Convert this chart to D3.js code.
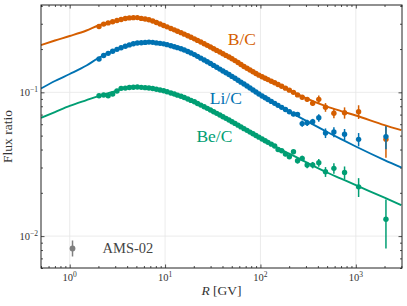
<!DOCTYPE html>
<html>
<head>
<meta charset="utf-8">
<title>Secondary to primary flux ratios</title>
<script src="https://cdn.jsdelivr.net/npm/d3@7"></script>
<style>
  body { margin: 0; background: #fff; }
  text { font-family: "Liberation Serif", "DejaVu Serif", serif; }
</style>
</head>
<body>
<svg id="chart" width="407" height="306"></svg>
<script>
// AMS-02 rigidity bin centres [GV]
const rig = [2.03, 2.27, 2.53, 2.82, 3.13, 3.46, 3.83, 4.22, 4.65, 5.12,
  5.63, 6.18, 6.77, 7.42, 8.11, 8.86, 9.67, 10.5, 11.5, 12.5,
  13.5, 14.7, 15.9, 17.3, 18.7, 20.3, 21.9, 23.7, 25.7, 27.7,
  29.9, 32.3, 34.8, 37.5, 40.4, 43.5, 46.8, 50.3, 54.1, 58.2,
  62.5, 67.2, 72.3, 77.7, 83.5, 89.7, 96.4, 104, 112, 120,
  130, 141, 153, 167, 183, 201, 222, 245, 274, 309,
  353, 409, 481, 589, 762, 1070, 2070];

const bcData = [0.2871, 0.2983, 0.3041, 0.3100, 0.3157, 0.3210, 0.3265, 0.3294, 0.3306, 0.3310,
  0.3269, 0.3233, 0.3198, 0.3135, 0.3061, 0.2988, 0.2919, 0.2854, 0.2783, 0.2720,
  0.2662, 0.2600, 0.2540, 0.2475, 0.2417, 0.2356, 0.2297, 0.2237, 0.2177, 0.2122,
  0.2069, 0.2012, 0.1958, 0.1907, 0.1856, 0.1807, 0.1760, 0.1714, 0.1662, 0.1611,
  0.1562, 0.1514, 0.1470, 0.1430, 0.1391, 0.1353, 0.1317, 0.1282, 0.1253, 0.1226,
  0.1195, 0.1165, 0.1135, 0.1102, 0.1069, 0.1036, 0.1000, 0.0960, 0.0925, 0.0894,
  0.0840, 0.0894, 0.0787, 0.0715, 0.0721, 0.0733, 0.0471];
const bcErr = [0.003, 0.003, 0.003, 0.003, 0.003, 0.003, 0.003, 0.003, 0.003, 0.003,
  0.003, 0.003, 0.003, 0.003, 0.003, 0.003, 0.003, 0.0025, 0.0025, 0.0025,
  0.0025, 0.0025, 0.0025, 0.0025, 0.0025, 0.0025, 0.0025, 0.0025, 0.0025, 0.0025,
  0.0025, 0.0025, 0.0025, 0.0025, 0.0025, 0.0025, 0.0025, 0.0025, 0.0025, 0.0025,
  0.002, 0.002, 0.002, 0.002, 0.002, 0.002, 0.002, 0.002, 0.002, 0.002,
  0.002, 0.002, 0.0025, 0.0025, 0.0025, 0.0025, 0.003, 0.003, 0.0032, 0.0035,
  0.0035, 0.0055, 0.0055, 0.0055, 0.0065, 0.008, 0.012];

const liData = [0.1706, 0.1804, 0.1867, 0.1932, 0.1991, 0.2041, 0.2094, 0.2138, 0.2176, 0.2205,
  0.2215, 0.2225, 0.2235, 0.2227, 0.2208, 0.2191, 0.2174, 0.2147, 0.2110, 0.2076,
  0.2046, 0.2012, 0.1970, 0.1921, 0.1877, 0.1830, 0.1780, 0.1729, 0.1678, 0.1632,
  0.1587, 0.1539, 0.1494, 0.1451, 0.1408, 0.1368, 0.1329, 0.1291, 0.1252, 0.1213,
  0.1177, 0.1142, 0.1106, 0.1071, 0.1037, 0.1005, 0.0973, 0.0943, 0.0916, 0.0892,
  0.0865, 0.0838, 0.0812, 0.0786, 0.0759, 0.0733, 0.0707, 0.0703, 0.0606, 0.0614,
  0.0624, 0.0665, 0.0521, 0.0530, 0.0511, 0.0471, 0.0492];
const liErr = [0.003, 0.003, 0.003, 0.003, 0.003, 0.003, 0.003, 0.003, 0.003, 0.003,
  0.003, 0.003, 0.003, 0.003, 0.003, 0.003, 0.003, 0.0025, 0.0025, 0.0025,
  0.0025, 0.0025, 0.0025, 0.0025, 0.0025, 0.0025, 0.0025, 0.0025, 0.0025, 0.0025,
  0.0025, 0.0025, 0.0025, 0.0025, 0.0025, 0.0025, 0.0025, 0.0025, 0.0025, 0.0025,
  0.002, 0.002, 0.002, 0.002, 0.002, 0.002, 0.002, 0.002, 0.002, 0.002,
  0.002, 0.002, 0.002, 0.002, 0.002, 0.002, 0.0025, 0.0025, 0.003, 0.003,
  0.003, 0.004, 0.004, 0.0042, 0.0045, 0.005, 0.009];

const beData = [0.0947, 0.0958, 0.0947, 0.0973, 0.1021, 0.1066, 0.1070, 0.1081, 0.1086, 0.1088,
  0.1083, 0.1078, 0.1073, 0.1063, 0.1050, 0.1038, 0.1026, 0.1010, 0.0990, 0.0973,
  0.0956, 0.0939, 0.0920, 0.0898, 0.0879, 0.0859, 0.0837, 0.0815, 0.0793, 0.0774,
  0.0754, 0.0733, 0.0714, 0.0695, 0.0677, 0.0659, 0.0642, 0.0625, 0.0608, 0.0591,
  0.0575, 0.0559, 0.0544, 0.0529, 0.0515, 0.0501, 0.0488, 0.0474, 0.0461, 0.0449,
  0.0436, 0.0423, 0.0400, 0.0392, 0.0372, 0.0356, 0.0386, 0.0334, 0.0347, 0.0312,
  0.0312, 0.0324, 0.0280, 0.0296, 0.0277, 0.0220, 0.0131];
const beErr = [0.0015, 0.0015, 0.0015, 0.0015, 0.0015, 0.0015, 0.0015, 0.0015, 0.0015, 0.0015,
  0.0015, 0.0015, 0.0015, 0.0015, 0.0015, 0.0015, 0.0015, 0.0012, 0.0012, 0.0012,
  0.0012, 0.0012, 0.0012, 0.0012, 0.0012, 0.0012, 0.0012, 0.0012, 0.0012, 0.0012,
  0.0012, 0.0012, 0.0012, 0.0012, 0.0012, 0.0012, 0.0012, 0.0012, 0.0012, 0.0012,
  0.001, 0.001, 0.001, 0.001, 0.001, 0.001, 0.001, 0.001, 0.001, 0.001,
  0.001, 0.001, 0.0012, 0.0012, 0.0012, 0.0012, 0.0013, 0.0014, 0.0015, 0.0015,
  0.0016, 0.002, 0.0022, 0.0025, 0.0028, 0.0033, 0.0049];

// model curves
const modelR = [0.5, 0.7, 1, 1.5, 2, 3, 4, 5, 7, 10, 15, 20, 30, 50, 70, 100, 150, 200, 300, 500, 700, 1000, 2000, 3000];
const bcModel = [0.2134, 0.2293, 0.2464, 0.2692, 0.2916, 0.3134, 0.3289, 0.3315, 0.3185, 0.2893, 0.2587, 0.2368,
  0.2066, 0.1718, 0.1488, 0.1299, 0.1142, 0.1038, 0.0913, 0.0796, 0.0741, 0.0690, 0.0592, 0.0546];
const liModel = [0.1063, 0.1199, 0.1341, 0.1536, 0.1732, 0.1970, 0.2117, 0.2203, 0.2239, 0.2168, 0.2004, 0.1841,
  0.1585, 0.1294, 0.1122, 0.0957, 0.0818, 0.0735, 0.0635, 0.0530, 0.0473, 0.0420, 0.0338, 0.0300];
const beModel = [0.0665, 0.0729, 0.0804, 0.0883, 0.0942, 0.1021, 0.1079, 0.1089, 0.1072, 0.1021, 0.0935, 0.0863,
  0.0753, 0.0627, 0.0551, 0.0481, 0.0413, 0.0375, 0.0327, 0.0277, 0.0251, 0.0226, 0.0185, 0.0164];

const xMajor = [1, 10, 100, 1000];
const yMajor = [0.01, 0.1];
const xLabels = ["0", "1", "2", "3"];
const yLabels = ["\u22122", "\u22121"];

const series = [
  {name: "B/C", color: "#d55e00", data: bcData, err: bcErr, model: bcModel, lab: [45.5, 0.212]},
  {name: "Li/C", color: "#0072b2", data: liData, err: liErr, model: liModel, lab: [29.4, 0.083]},
  {name: "Be/C", color: "#009e73", data: beData, err: beErr, model: beModel, lab: [21.3, 0.0451]}
];

const margin = {top: 5, right: 5, bottom: 38, left: 41};
const W = 407, H = 306;
const w = W - margin.left - margin.right, h = H - margin.top - margin.bottom;

const svg = d3.select("#chart");
const g = svg.append("g").attr("transform", `translate(${margin.left},${margin.top})`);

const x = d3.scaleLog().domain([0.5, 3050]).range([0, w]);
const y = d3.scaleLog().domain([0.006, 0.405]).range([h, 0]);

// minor tick values
const xMinor = [];
[0.1, 1, 10, 100, 1000].forEach(d => { for (let k = 2; k <= 9; k++) { const v = d * k; if (v >= 0.5 && v <= 3050) xMinor.push(v); } });
const yMinor = [];
[0.001, 0.01, 0.1].forEach(d => { for (let k = 2; k <= 9; k++) { const v = d * k; if (v >= 0.006 && v <= 0.405) yMinor.push(v); } });

// grid
g.selectAll(".gx").data(xMajor).enter().append("line")
  .attr("x1", d => x(d)).attr("x2", d => x(d)).attr("y1", 0).attr("y2", h)
  .attr("stroke", "#e6e6e6").attr("stroke-width", 0.8);
g.selectAll(".gy").data(yMajor).enter().append("line")
  .attr("y1", d => y(d)).attr("y2", d => y(d)).attr("x1", 0).attr("x2", w)
  .attr("stroke", "#e6e6e6").attr("stroke-width", 0.8);

// ticks on all four sides, pointing in
function ticks(axis, vals, size, tr) {
  const a = g.append("g").attr("transform", tr)
    .call(axis.tickValues(vals).tickSize(-size).tickFormat(""));
  a.select(".domain").remove();
  a.selectAll("line").attr("stroke", "#222").attr("stroke-width", 0.8);
}
ticks(d3.axisBottom(x), xMajor, 3.5, `translate(0,${h})`);
ticks(d3.axisBottom(x), xMinor, 2, `translate(0,${h})`);
ticks(d3.axisTop(x), xMajor, 3.5, "translate(0,0)");
ticks(d3.axisTop(x), xMinor, 2, "translate(0,0)");
ticks(d3.axisLeft(y), yMajor, 3.5, "translate(0,0)");
ticks(d3.axisLeft(y), yMinor, 2, "translate(0,0)");
ticks(d3.axisRight(y), yMajor, 3.5, `translate(${w},0)`);
ticks(d3.axisRight(y), yMinor, 2, `translate(${w},0)`);

// tick labels with exponents
xMajor.forEach((v, i) => {
  const t = g.append("text").attr("x", x(v)).attr("y", h + 13)
    .attr("text-anchor", "middle").attr("font-size", 10.5).attr("fill", "#333");
  t.append("tspan").text("10");
  t.append("tspan").attr("dy", -4).attr("font-size", 7.5).text(xLabels[i]);
});
yMajor.forEach((v, i) => {
  const t = g.append("text").attr("x", -3).attr("y", y(v) + 4)
    .attr("text-anchor", "end").attr("font-size", 10.5).attr("fill", "#333");
  t.append("tspan").text("10");
  t.append("tspan").attr("dy", -4).attr("font-size", 7.5).text(yLabels[i]);
});

// clip
svg.append("defs").append("clipPath").attr("id", "clip")
  .append("rect").attr("width", w).attr("height", h);

const plot = g.append("g").attr("clip-path", "url(#clip)");
const line = d3.line().x(d => x(d[0])).y(d => y(d[1])).curve(d3.curveMonotoneX);

series.forEach(s => {
  plot.append("path").datum(modelR.map((r, i) => [r, s.model[i]]))
    .attr("d", line).attr("fill", "none").attr("stroke", s.color).attr("stroke-width", 1.9);
});

series.forEach(s => {
  const pts = rig.map((r, i) => ({r, v: s.data[i], e: s.err[i]}));
  plot.selectAll(null).data(pts).enter().append("line")
    .attr("x1", d => x(d.r)).attr("x2", d => x(d.r))
    .attr("y1", d => y(d.v + d.e)).attr("y2", d => y(Math.max(d.v - d.e, 0.0061)))
    .attr("stroke", s.color).attr("stroke-width", 1.5);
  plot.selectAll(null).data(pts).enter().append("circle")
    .attr("cx", d => x(d.r)).attr("cy", d => y(d.v)).attr("r", 2.7)
    .attr("fill", s.color);
  g.append("text").attr("x", x(s.lab[0])).attr("y", y(s.lab[1]))
    .attr("font-size", 17.5).attr("fill", s.color).text(s.name);
});

// legend
const lg = g.append("g").attr("transform", `translate(${x(1.07)},${y(0.0082)})`);
lg.append("line").attr("x1", 0).attr("x2", 0).attr("y1", -8).attr("y2", 8)
  .attr("stroke", "#7f7f7f").attr("stroke-width", 1.5);
lg.append("circle").attr("r", 2.9).attr("fill", "#7f7f7f");
lg.append("text").attr("x", 30).attr("y", 5).attr("font-size", 14.5).attr("fill", "#444").text("AMS-02");

// frame
g.append("rect").attr("width", w).attr("height", h)
  .attr("fill", "none").attr("stroke", "#222").attr("stroke-width", 1);

// axis titles
const xt = g.append("text").attr("x", w / 2).attr("y", h + 27)
  .attr("text-anchor", "middle").attr("font-size", 13.5).attr("fill", "#333");
xt.append("tspan").attr("font-style", "italic").text("R");
xt.append("tspan").text(" [GV]");
g.append("text").attr("transform", `translate(-29,${h / 2}) rotate(-90)`)
  .attr("text-anchor", "middle").attr("font-size", 13.5).attr("fill", "#333").text("Flux ratio");
</script>
</body>
</html>
